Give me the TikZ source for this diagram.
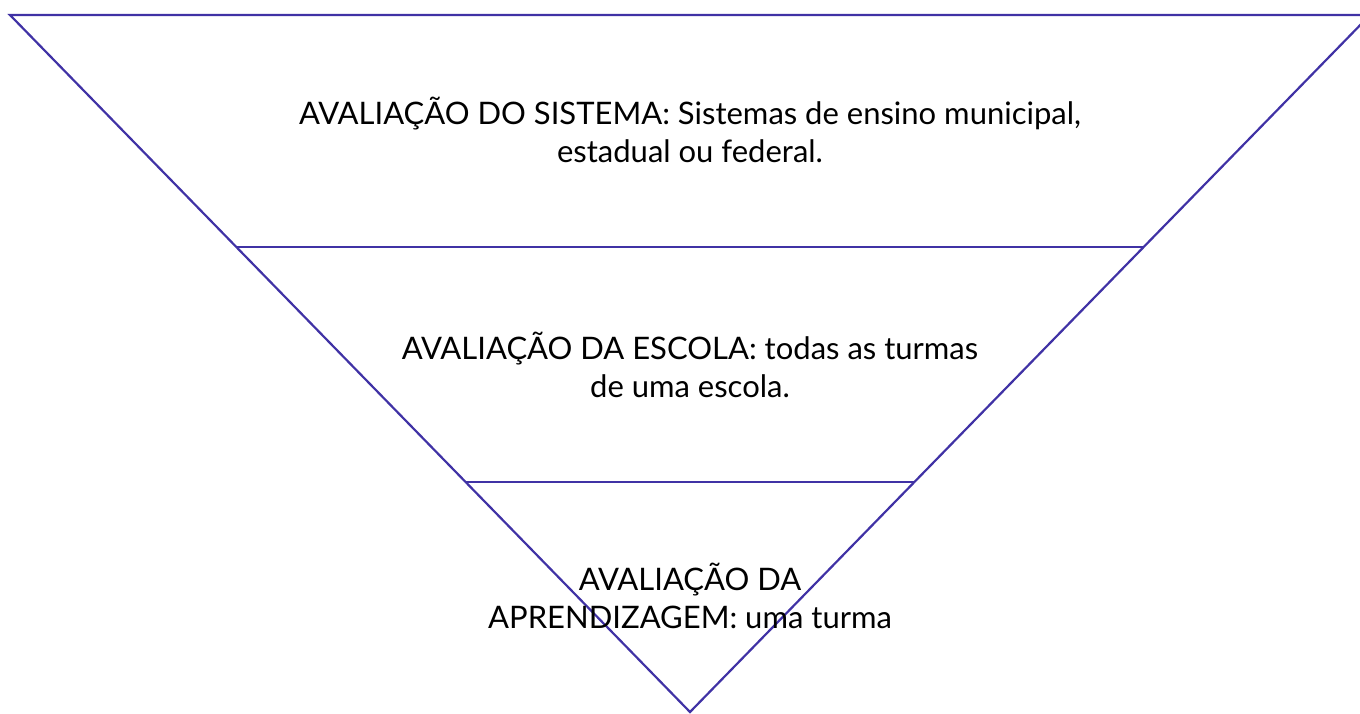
\documentclass[tikz,border=0pt]{standalone}
\usepackage{fontspec}
\setmainfont{Lato}
\usetikzlibrary{positioning}
\usetikzlibrary{calc}
\definecolor{pyrline}{RGB}{64,50,165}
\tikzset{
  pyr/.style={draw=pyrline, line width=2.2pt},
  lvltext/.style={align=center, font=\fontsize{31}{38}\selectfont, inner sep=0pt}
}
\begin{document}
\begin{tikzpicture}[x=1pt,y=-1pt]
  \clip (0,0) rectangle (1360,713);

  \coordinate (TL) at (10,15);
  \coordinate (TR) at (1370,15);
  \coordinate (V) at (690,712);
  \coordinate (L1) at ($(TL)!0.333!(V)$);
  \coordinate (R1) at ($(TR)!0.333!(V)$);
  \coordinate (L2) at ($(TL)!0.670!(V)$);
  \coordinate (R2) at ($(TR)!0.670!(V)$);

  \draw[pyr] (TL) -- (TR) -- (V) -- cycle;
  \draw[pyr] (L1) -- (R1);
  \draw[pyr] (L2) -- (R2);

  \node[lvltext] (sistema) at (690,130) {AVALIAÇÃO DO SISTEMA: Sistemas de ensino municipal,\\estadual ou federal.};
  \node[lvltext] (escola) at (690,365) {AVALIAÇÃO DA ESCOLA: todas as turmas\\de uma escola.};
  \node[lvltext] (aprend) at (690,596) {AVALIAÇÃO DA\\APRENDIZAGEM: uma turma};

\end{tikzpicture}
\end{document}
